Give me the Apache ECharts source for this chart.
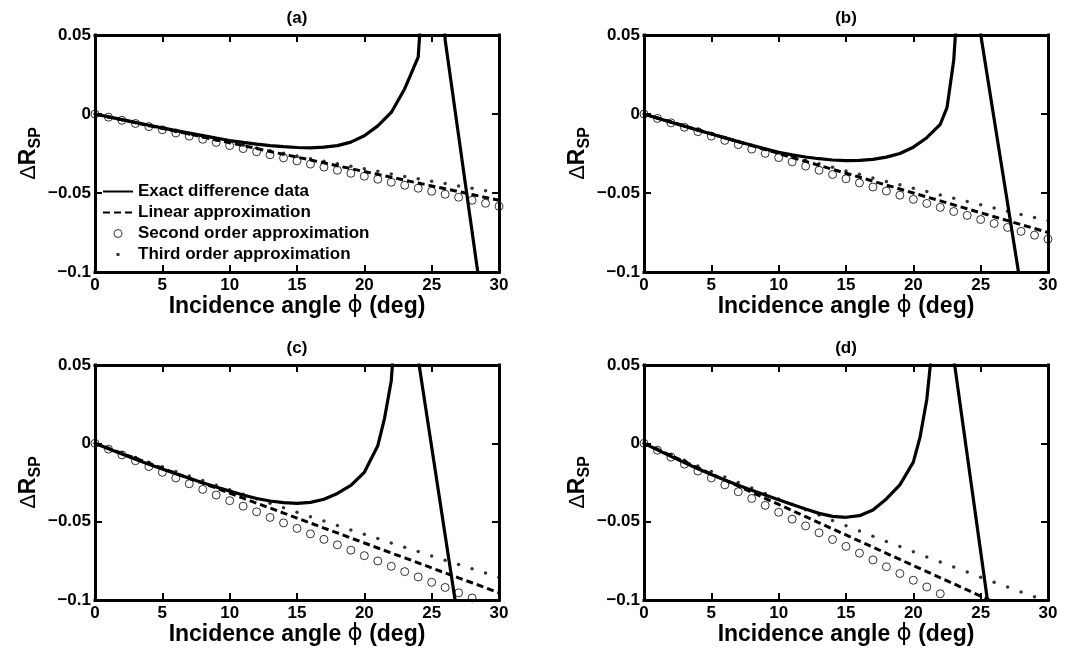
<!DOCTYPE html>
<html>
<head>
<meta charset="utf-8">
<script src="https://cdn.jsdelivr.net/npm/echarts@6/dist/echarts.min.js"></script>
<style>
  html, body { margin: 0; padding: 0; background: #fff; }
  #chart { width: 1078px; height: 654px; }
</style>
</head>
<body>
<div id="chart"></div>
<script>
// angles for the approximation markers (deg)
const xDeg = [0,1,2,3,4,5,6,7,8,9,10,11,12,13,14,15,16,17,18,19,20,21,22,23,24,25,26,27,28,29,30];

// panel (a)
const linA = [0,-0.0018,-0.0036,-0.0055,-0.0073,-0.0091,-0.0109,-0.0127,-0.0146,-0.0164,-0.0182,-0.0200,-0.0218,-0.0237,-0.0255,-0.0273,-0.0291,-0.0309,-0.0328,-0.0346,-0.0364,-0.0382,-0.0400,-0.0419,-0.0437,-0.0455,-0.0473,-0.0491,-0.0510,-0.0528,-0.0546];
const secA = [0,-0.0020,-0.0040,-0.0060,-0.0080,-0.0100,-0.0120,-0.0140,-0.0160,-0.0180,-0.0200,-0.0219,-0.0239,-0.0258,-0.0278,-0.0297,-0.0317,-0.0336,-0.0356,-0.0375,-0.0394,-0.0413,-0.0432,-0.0451,-0.0470,-0.0489,-0.0508,-0.0527,-0.0546,-0.0565,-0.0584];
const thrA = [0,-0.0019,-0.0037,-0.0056,-0.0074,-0.0092,-0.0110,-0.0128,-0.0146,-0.0163,-0.0181,-0.0198,-0.0215,-0.0232,-0.0249,-0.0266,-0.0283,-0.0299,-0.0315,-0.0331,-0.0347,-0.0363,-0.0379,-0.0395,-0.0410,-0.0425,-0.0440,-0.0455,-0.0470,-0.0485,-0.0500];
const exactA = [[0,0],[1,-0.0018],[2,-0.0036],[3,-0.0053],[4,-0.0071],[5,-0.0088],[6,-0.0105],[7,-0.0121],[8,-0.0137],[9,-0.0153],[10,-0.0168],[11,-0.0180],[12,-0.0191],[13,-0.0200],[14,-0.0207],[15,-0.0212],[16,-0.0214],[17,-0.0210],[18,-0.0200],[19,-0.0178],[20,-0.0138],[21,-0.0075],[22,0.0010],[23,0.0160],[24,0.0360],[24.5,0.1],[25,0.25],[26,0.047],[27,-0.0137],[28,-0.0744],[29,-0.135],[30,-0.196]];

// panel (b)
const linB = [0,-0.0025,-0.0050,-0.0075,-0.0100,-0.0125,-0.0150,-0.0175,-0.0200,-0.0225,-0.0250,-0.0275,-0.0300,-0.0325,-0.0350,-0.0375,-0.0400,-0.0425,-0.0450,-0.0475,-0.0500,-0.0525,-0.0550,-0.0575,-0.0600,-0.0625,-0.0650,-0.0675,-0.0700,-0.0725,-0.0750];
const secB = [0,-0.0028,-0.0056,-0.0084,-0.0112,-0.0140,-0.0167,-0.0194,-0.0222,-0.0249,-0.0276,-0.0303,-0.0330,-0.0356,-0.0383,-0.0410,-0.0436,-0.0462,-0.0488,-0.0514,-0.0540,-0.0566,-0.0591,-0.0617,-0.0642,-0.0668,-0.0693,-0.0718,-0.0743,-0.0767,-0.0792];
const thrB = [0,-0.0025,-0.0051,-0.0076,-0.0100,-0.0125,-0.0149,-0.0174,-0.0198,-0.0221,-0.0245,-0.0268,-0.0292,-0.0315,-0.0337,-0.0360,-0.0382,-0.0405,-0.0427,-0.0448,-0.0470,-0.0491,-0.0513,-0.0534,-0.0554,-0.0575,-0.0595,-0.0616,-0.0636,-0.0655,-0.0675];
const exactB = [[0,0],[1,-0.0026],[2,-0.0052],[3,-0.0077],[4,-0.0102],[5,-0.0127],[6,-0.0151],[7,-0.0175],[8,-0.0198],[9,-0.0221],[10,-0.0242],[11,-0.0259],[12,-0.0272],[13,-0.0283],[14,-0.0291],[15,-0.0295],[16,-0.0294],[17,-0.0287],[18,-0.0273],[19,-0.0250],[20,-0.0210],[21,-0.0150],[22,-0.0065],[22.5,0.004],[23,0.034],[23.5,0.1],[24,0.25],[25,0.0505],[26,-0.0031],[27,-0.0567],[28,-0.1103],[29,-0.164],[30,-0.217]];

// panel (c)
const linC = [0,-0.0032,-0.0064,-0.0095,-0.0127,-0.0159,-0.0191,-0.0223,-0.0254,-0.0286,-0.0318,-0.0350,-0.0382,-0.0413,-0.0445,-0.0477,-0.0509,-0.0541,-0.0572,-0.0604,-0.0636,-0.0668,-0.0700,-0.0731,-0.0763,-0.0795,-0.0827,-0.0859,-0.0890,-0.0922,-0.0954];
const secC = [0,-0.0037,-0.0074,-0.0111,-0.0148,-0.0185,-0.0221,-0.0258,-0.0294,-0.0330,-0.0366,-0.0401,-0.0437,-0.0473,-0.0508,-0.0543,-0.0578,-0.0613,-0.0648,-0.0682,-0.0717,-0.0751,-0.0785,-0.0819,-0.0853,-0.0887,-0.0920,-0.0954,-0.0987,-0.1020,-0.1053];
const thrC = [0,-0.0030,-0.0060,-0.0090,-0.0120,-0.0149,-0.0179,-0.0208,-0.0238,-0.0267,-0.0296,-0.0325,-0.0354,-0.0382,-0.0411,-0.0440,-0.0468,-0.0496,-0.0525,-0.0553,-0.0581,-0.0608,-0.0636,-0.0664,-0.0691,-0.0719,-0.0746,-0.0773,-0.0800,-0.0827,-0.0854];
const exactC = [[0,0],[1,-0.0034],[2,-0.0068],[3,-0.0101],[4,-0.0133],[5,-0.0164],[6,-0.0194],[7,-0.0223],[8,-0.0252],[9,-0.0279],[10,-0.0305],[11,-0.0330],[12,-0.0352],[13,-0.0368],[14,-0.0379],[15,-0.0383],[16,-0.0377],[17,-0.0357],[18,-0.0320],[19,-0.0268],[20,-0.0185],[21,-0.0015],[21.5,0.016],[22,0.040],[22.5,0.1],[23,0.3],[24,0.0539],[25,-0.0023],[26,-0.0585],[27,-0.1147],[28,-0.171],[29,-0.227],[30,-0.283]];

// panel (d)
const linD = [0,-0.0039,-0.0078,-0.0117,-0.0156,-0.0195,-0.0234,-0.0273,-0.0312,-0.0351,-0.0390,-0.0429,-0.0468,-0.0507,-0.0546,-0.0585,-0.0624,-0.0663,-0.0702,-0.0741,-0.0780,-0.0819,-0.0858,-0.0897,-0.0936,-0.0975,-0.1014,-0.1053,-0.1092,-0.1131,-0.1170];
const secD = [0,-0.0044,-0.0088,-0.0133,-0.0177,-0.0221,-0.0265,-0.0309,-0.0352,-0.0396,-0.0440,-0.0484,-0.0527,-0.0571,-0.0614,-0.0658,-0.0701,-0.0744,-0.0788,-0.0831,-0.0874,-0.0917,-0.0960,-0.1003,-0.1046,-0.1089,-0.1132,-0.1174,-0.1217,-0.1259,-0.1302];
const thrD = [0,-0.0036,-0.0072,-0.0108,-0.0144,-0.0180,-0.0215,-0.0250,-0.0285,-0.0320,-0.0355,-0.0389,-0.0424,-0.0458,-0.0492,-0.0526,-0.0559,-0.0593,-0.0626,-0.0659,-0.0692,-0.0725,-0.0757,-0.0790,-0.0822,-0.0854,-0.0886,-0.0917,-0.0949,-0.0980,-0.1011];
const exactD = [[0,0],[1,-0.0042],[2,-0.0083],[3,-0.0123],[4,-0.0162],[5,-0.0199],[6,-0.0234],[7,-0.0267],[8,-0.0299],[9,-0.0330],[10,-0.0360],[11,-0.0390],[12,-0.0419],[13,-0.0447],[14,-0.0466],[15,-0.0472],[16,-0.0462],[17,-0.0425],[18,-0.0355],[19,-0.0265],[20,-0.0120],[20.5,0.004],[21,0.028],[21.5,0.07],[22,0.3],[23,0.0543],[24,-0.0074],[25,-0.0691],[26,-0.1308],[27,-0.193],[28,-0.254],[29,-0.316],[30,-0.378]];

const xTicks = [0, 30, 5];          // min, max, step
const yTicks = [-0.1, 0.05, 0.05];  // min, max, step
const panelTitles = ['(a)', '(b)', '(c)', '(d)'];
const seriesNames = ['Exact difference data', 'Linear approximation', 'Second order approximation', 'Third order approximation'];

const panels = [
  { exact: exactA, lin: linA, sec: secA, thr: thrA },
  { exact: exactB, lin: linB, sec: secB, thr: thrB },
  { exact: exactC, lin: linC, sec: secC, thr: thrC },
  { exact: exactD, lin: linD, sec: secD, thr: thrD }
];

const FONT = 'Liberation Sans, Arial, Helvetica, sans-serif';
const boxes = [
  { left: 95, top: 35, width: 404, height: 237 },
  { left: 644, top: 35, width: 404, height: 237 },
  { left: 95, top: 365, width: 404, height: 235 },
  { left: 644, top: 365, width: 404, height: 235 }
];

const myChart = echarts.init(document.getElementById('chart'));

const grid = [];
const xAxis = [];
const yAxis = [];
const series = [];
const graphic = [];

const tickLabel = { color: '#000', fontSize: 17, fontWeight: 'bold', fontFamily: FONT };

// the box is drawn by the four axis lines; ticks point inwards
function tick() { return { show: true, inside: true, length: 7, lineStyle: { color: '#000', width: 2 } }; }
function boxLine() { return { show: true, onZero: false, lineStyle: { color: '#000', width: 3, cap: 'square' } }; }

boxes.forEach((b, i) => {
  grid.push({ left: b.left, top: b.top, width: b.width, height: b.height, show: false });

  // bottom + top x axes
  xAxis.push({
    type: 'value', gridIndex: i, position: 'bottom',
    min: xTicks[0], max: xTicks[1], interval: xTicks[2],
    axisLine: boxLine(), axisTick: tick(), splitLine: { show: false },
    axisLabel: Object.assign({ margin: 5 }, tickLabel),
    name: '{b|Incidence angle }{p|\u03D5}{b| (deg)}',
    nameLocation: 'middle', nameGap: 22,
    nameTextStyle: {
      rich: {
        b: { fontSize: 23, fontWeight: 'bold', fontFamily: FONT, color: '#000' },
        p: { fontSize: 23, fontWeight: 'normal', fontFamily: 'DejaVu Sans', color: '#000' }
      }
    }
  });
  xAxis.push({
    type: 'value', gridIndex: i, position: 'top',
    min: xTicks[0], max: xTicks[1], interval: xTicks[2],
    axisLine: boxLine(), axisTick: tick(), splitLine: { show: false },
    axisLabel: { show: false }
  });

  // left + right y axes
  yAxis.push({
    type: 'value', gridIndex: i, position: 'left',
    min: yTicks[0], max: yTicks[1], interval: yTicks[2],
    axisLine: boxLine(), axisTick: tick(), splitLine: { show: false },
    axisLabel: Object.assign({
      margin: 4,
      formatter: (v) => (Math.abs(v) < 1e-9 ? '0' : String(+v.toFixed(2)).replace('-', '\u2212'))
    }, tickLabel),
    name: '{d|\u0394}{r|R}{s|SP}',
    nameLocation: 'middle', nameRotate: 90, nameGap: 50,
    nameTextStyle: {
      rich: {
        d: { fontSize: 22, fontWeight: 'normal', fontFamily: FONT, color: '#000' },
        r: { fontSize: 23, fontWeight: 'bold', fontFamily: FONT, color: '#000' },
        s: { fontSize: 16, fontWeight: 'bold', fontFamily: FONT, color: '#000', padding: [14, 0, 0, 0] }
      }
    }
  });
  yAxis.push({
    type: 'value', gridIndex: i, position: 'right',
    min: yTicks[0], max: yTicks[1], interval: yTicks[2],
    axisLine: boxLine(), axisTick: tick(), splitLine: { show: false },
    axisLabel: { show: false }
  });

  const p = panels[i];
  const ax = i * 2;
  series.push({
    name: seriesNames[0], type: 'line', xAxisIndex: ax, yAxisIndex: ax,
    data: p.exact, symbol: 'none', clip: true, silent: true,
    itemStyle: { color: '#000' },
    lineStyle: { color: '#000', width: 3.2 }
  });
  series.push({
    name: seriesNames[1], type: 'line', xAxisIndex: ax, yAxisIndex: ax,
    data: xDeg.map((x, k) => [x, p.lin[k]]), symbol: 'none', clip: true, silent: true,
    itemStyle: { color: '#000' },
    lineStyle: { color: '#000', width: 3, type: [7, 4] }
  });
  series.push({
    name: seriesNames[2], type: 'scatter', xAxisIndex: ax, yAxisIndex: ax,
    data: xDeg.map((x, k) => [x, p.sec[k]]), symbol: 'circle', symbolSize: 8, clip: true, silent: true,
    itemStyle: { color: 'transparent', borderColor: '#000', borderWidth: 1 }
  });
  series.push({
    name: seriesNames[3], type: 'scatter', xAxisIndex: ax, yAxisIndex: ax,
    data: xDeg.map((x, k) => [x, p.thr[k]]), symbol: 'circle', symbolSize: 3.5, clip: true, silent: true,
    itemStyle: { color: '#000' }
  });

  graphic.push({
    type: 'text',
    x: b.left + b.width / 2,
    y: b.top - 17,
    style: {
      text: panelTitles[i], font: 'bold 17px ' + FONT, fill: '#000',
      align: 'center', verticalAlign: 'middle', textAlign: 'center', textVerticalAlign: 'middle'
    }
  });
});

const option = {
  backgroundColor: '#fff',
  animation: false,
  grid: grid,
  xAxis: xAxis,
  yAxis: yAxis,
  graphic: graphic,
  legend: {
    orient: 'vertical',
    left: 102,
    top: 183,
    itemWidth: 30,
    itemHeight: 8,
    itemGap: 4,
    selectedMode: false,
    padding: 0,
    textStyle: { color: '#000', fontSize: 17, fontWeight: 'bold', fontFamily: FONT },
    data: [
      { name: seriesNames[0], itemStyle: { opacity: 0 } },
      { name: seriesNames[1], itemStyle: { opacity: 0 } },
      { name: seriesNames[2], icon: 'circle', itemStyle: { color: 'transparent', borderColor: '#000', borderWidth: 1 } },
      { name: seriesNames[3], icon: 'path://M0,0M8,8M2.5,2.5h3v3h-3z', itemStyle: { color: '#000' } }
    ]
  },
  series: series
};

myChart.setOption(option);
</script>
</body>
</html>
